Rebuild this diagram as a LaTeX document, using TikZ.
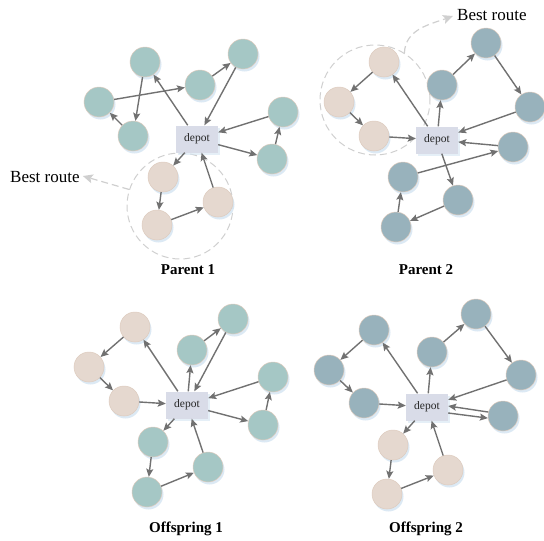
\documentclass[tikz,border=0pt]{standalone}
\usepackage{fontspec}
\setmainfont{Liberation Serif}
\usetikzlibrary{arrows.meta,shadows}
\definecolor{tealc}{HTML}{A5C7C5}
\definecolor{bluec}{HTML}{98B2BC}
\definecolor{pinkc}{HTML}{E5D8CF}
\definecolor{rimc}{HTML}{DDCBBE}
\definecolor{depotc}{HTML}{D9DCE8}
\definecolor{arrc}{HTML}{717171}
\definecolor{bestc}{HTML}{CFCFCF}
\definecolor{shadc}{HTML}{D3E4F1}
\tikzset{
  cust/.style={circle, minimum size=30pt, inner sep=0pt, fill=#1, draw=rimc, line width=0.5pt,
    drop shadow={shadow xshift=1.5pt, shadow yshift=-2.5pt, fill=shadc, opacity=0.8}},
  tn/.style={cust=tealc},
  bn/.style={cust=bluec},
  pn/.style={cust=pinkc},
  depotbox/.style={rectangle, fill=depotc, minimum width=42pt, minimum height=27pt, inner sep=0pt,
    font=\fontsize{11.5}{12}\selectfont, text=black!85,
    drop shadow={shadow xshift=1.5pt, shadow yshift=-2pt, fill=shadc, opacity=0.6}},
  arr/.style={draw=arrc, line width=1.4pt, -{Stealth[length=8pt, width=7pt, inset=1.5pt]}},
  bestcirc/.style={circle, inner sep=0pt, draw=bestc, line width=1pt, dash pattern=on 7pt off 4pt},
  bestarr/.style={draw=bestc, line width=1.2pt, dash pattern=on 7pt off 4pt,
    -{Stealth[length=10pt, width=9pt, inset=2pt, fill=bestc]}},
  besttxt/.style={font=\fontsize{17}{19}\selectfont, inner sep=0pt},
  caption/.style={font=\fontsize{15}{17}\selectfont\bfseries, inner sep=0pt},
}
\begin{document}
\begin{tikzpicture}[x=1pt,y=1pt]
\useasboundingbox (0,0) rectangle (544,-541);

% ================= Parent 1 =================
\node[bestcirc, minimum size=106pt] (c1) at (180,-206) {};
\node[tn] (a1) at (145,-62) {};
\node[tn] (a2) at (243,-54) {};
\node[tn] (a3) at (200,-85) {};
\node[tn] (a4) at (99,-102) {};
\node[tn] (a5) at (133,-136) {};
\node[tn] (a6) at (283,-112) {};
\node[tn] (a7) at (272,-159) {};
\node[depotbox] (d1) at (197,-139) {depot};
\node[pn] (a8) at (163,-177) {};
\node[pn] (a9) at (157,-225) {};
\node[pn] (a10) at (218,-202) {};
\node[besttxt, anchor=west] (br1) at (10,-177) {Best route};
\node[caption] (l1) at (188,-270) {Parent 1};

\draw[arr] (a4) -- (a3);
\draw[arr] (a1) -- (a5);
\draw[arr] (a5) -- (a4);
\draw[arr] (d1) -- (a1);
\draw[arr] (a3) -- (a2);
\draw[arr] (a2) -- (d1);
\draw[arr] (a6) -- (d1);
\draw[arr] (d1) -- (a7);
\draw[arr] (a7) -- (a6);
\draw[arr] (d1) -- (a8);
\draw[arr] (a8) -- (a9);
\draw[arr] (a9) -- (a10);
\draw[arr] (a10) -- (d1);
\draw[bestarr] (c1.162) -- ([xshift=3pt,yshift=1pt]br1.east);

% ================= Parent 2 =================
\node[bestcirc, minimum size=110pt] (c2) at (375,-100) {};
\node[pn] (p1) at (384,-62) {};
\node[pn] (p2) at (339,-102) {};
\node[pn] (p3) at (374,-136) {};
\node[depotbox] (d2) at (437,-140) {depot};
\node[bn] (q1) at (442,-85) {};
\node[bn] (q2) at (486,-43) {};
\node[bn] (q3) at (530,-107) {};
\node[bn] (q4) at (513,-147) {};
\node[bn] (q5) at (403,-177) {};
\node[bn] (q6) at (458,-200) {};
\node[bn] (q7) at (396,-227) {};
\node[besttxt, anchor=west] (br2) at (457,-15) {Best route};
\node[caption] (l2) at (426,-270) {Parent 2};

\draw[arr] (p1) -- (p2);
\draw[arr] (p2) -- (p3);
\draw[arr] (p3) -- (d2);
\draw[arr] (d2) -- (p1);
\draw[arr] (d2) -- (q1);
\draw[arr] (q1) -- (q2);
\draw[arr] (q2) -- (q3);
\draw[arr] (q3) -- (d2);
\draw[arr] (q4) -- (d2);
\draw[arr] (q5) -- (q4);
\draw[arr] (d2) -- (q6);
\draw[arr] (q6) -- (q7);
\draw[arr] (q7) -- (q5);
\draw[bestarr] (c2.58) to[out=88, in=200] ([xshift=-4pt,yshift=-1pt]br2.west);

% ================= Offspring 1 =================
\node[pn] (o1) at (135,-327) {};
\node[pn] (o2) at (89,-367) {};
\node[pn] (o3) at (124,-401) {};
\node[depotbox] (d3) at (187,-405) {depot};
\node[tn] (e1) at (192,-350) {};
\node[tn] (e2) at (233,-319) {};
\node[tn] (e3) at (273,-377) {};
\node[tn] (e4) at (263,-425) {};
\node[tn] (e5) at (153,-442) {};
\node[tn] (e6) at (147,-492) {};
\node[tn] (e7) at (208,-467) {};
\node[caption] (l3) at (186,-529) {Offspring 1};

\draw[arr] (o1) -- (o2);
\draw[arr] (o2) -- (o3);
\draw[arr] (o3) -- (d3);
\draw[arr] (d3) -- (o1);
\draw[arr] (d3) -- (e1);
\draw[arr] (e1) -- (e2);
\draw[arr] (e2) -- (d3);
\draw[arr] (e3) -- (d3);
\draw[arr] (d3) -- (e4);
\draw[arr] (e4) -- (e3);
\draw[arr] (d3) -- (e5);
\draw[arr] (e5) -- (e6);
\draw[arr] (e6) -- (e7);
\draw[arr] (e7) -- (d3);

% ================= Offspring 2 =================
\node[bn] (f1) at (374,-330) {};
\node[bn] (f2) at (329,-370) {};
\node[bn] (f3) at (364,-403) {};
\node[depotbox] (d4) at (427,-407) {depot};
\node[bn] (f4) at (432,-352) {};
\node[bn] (f5) at (476,-314) {};
\node[bn] (f6) at (521,-375) {};
\node[bn] (f7) at (503,-416) {};
\node[pn] (g1) at (393,-445) {};
\node[pn] (g2) at (387,-494) {};
\node[pn] (g3) at (448,-470) {};
\node[caption] (l4) at (426,-529) {Offspring 2};

\draw[arr] (f1) -- (f2);
\draw[arr] (f2) -- (f3);
\draw[arr] (f3) -- (d4);
\draw[arr] (d4) -- (f1);
\draw[arr] (d4) -- (f4);
\draw[arr] (f4) -- (f5);
\draw[arr] (f5) -- (f6);
\draw[arr] (f6) -- (d4);
\draw[arr] (f7.165) -- ([yshift=1pt]d4.east);
\draw[arr] ([yshift=-6pt]d4.east) -- (f7.188);
\draw[arr] (d4) -- (g1);
\draw[arr] (g1) -- (g2);
\draw[arr] (g2) -- (g3);
\draw[arr] (g3) -- (d4);
\end{tikzpicture}
\end{document}
